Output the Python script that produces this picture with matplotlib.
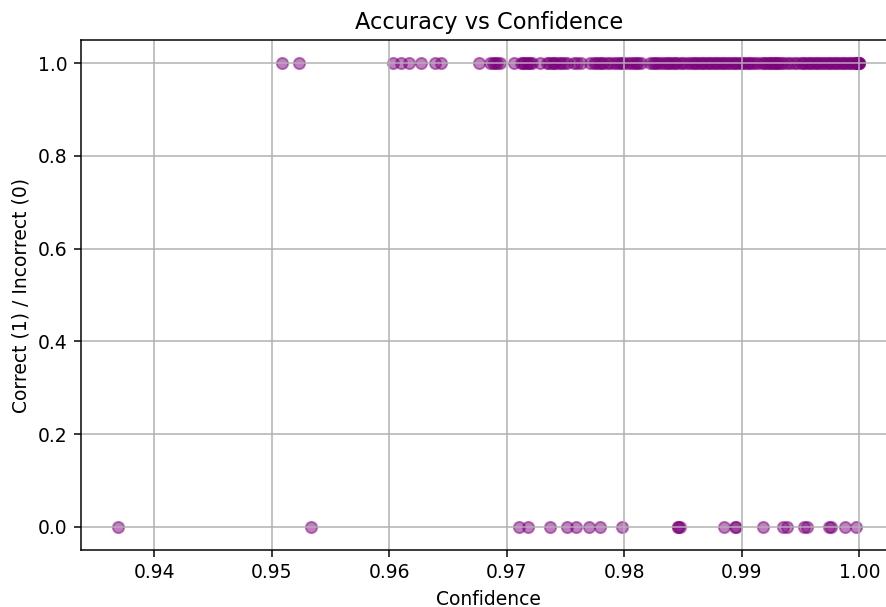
import numpy as np
import matplotlib
matplotlib.use('Agg')
import matplotlib.pyplot as plt

# уверенность модели для верных ответов
conf_correct = [
    0.9509, 0.9523,
    0.9603, 0.9610, 0.9617, 0.9627, 0.9639, 0.9644,
    0.9676, 0.9686, 0.9688, 0.9690, 0.9692, 0.9694,
    0.9706, 0.9712, 0.9714, 0.9715, 0.9717, 0.9718, 0.9720, 0.9721,
    0.9728, 0.9734, 0.9736, 0.9738, 0.9740, 0.9741, 0.9744, 0.9746, 0.9749,
    0.9751, 0.9757, 0.9760, 0.9763, 0.9771, 0.9774, 0.9776, 0.9778, 0.9780,
    0.9782, 0.9785, 0.9788, 0.9791, 0.9794, 0.9796, 0.9798, 0.9800, 0.9803,
    0.9806, 0.9808, 0.9810, 0.9812, 0.9814,
    0.9822, 0.9824, 0.9826, 0.9828, 0.9830, 0.9833, 0.9835, 0.9837, 0.9839,
    0.9841, 0.9843, 0.9845, 0.9848, 0.9850, 0.9853, 0.9856, 0.9858, 0.9860,
    0.9862, 0.9864, 0.9866, 0.9868, 0.9870, 0.9872, 0.9874, 0.9876, 0.9878,
    0.9880, 0.9882, 0.9884, 0.9886, 0.9888, 0.9890, 0.9892, 0.9894, 0.9896,
    0.9898, 0.9900, 0.9902, 0.9904, 0.9906, 0.9908, 0.9910, 0.9913, 0.9916,
    0.9919, 0.9920, 0.9922, 0.9924, 0.9925, 0.9927, 0.9928, 0.9930, 0.9931,
    0.9933, 0.9935, 0.9938, 0.9941, 0.9944, 0.9947, 0.9950,
    0.9952, 0.9954, 0.9956, 0.9958, 0.9960, 0.9962, 0.9964, 0.9966, 0.9968,
    0.9970, 0.9972, 0.9974, 0.9976, 0.9978, 0.9980, 0.9982, 0.9984, 0.9986,
    0.9988, 0.9990, 0.9992, 0.9994, 0.9996, 0.9997, 0.9998, 0.9999, 0.9999,
    1.0000, 1.0000, 1.0000,
]

# уверенность модели для ошибочных ответов
conf_wrong = [
    0.9369, 0.9533,
    0.9710, 0.9718, 0.9737, 0.9751, 0.9759, 0.9770, 0.9779, 0.9798,
    0.9846, 0.9846, 0.9847, 0.9885, 0.9894, 0.9895, 0.9918, 0.9935, 0.9938,
    0.9953, 0.9955, 0.9974, 0.9976, 0.9988, 0.9997,
]

confidence = np.array(conf_correct + conf_wrong)
correct = np.array([1] * len(conf_correct) + [0] * len(conf_wrong))

DPI = 135
fig = plt.figure(figsize=(886 / DPI, 607 / DPI), dpi=DPI)
ax = fig.add_axes([0.0911, 0.0939, 0.9208, 0.8402])

ax.scatter(confidence, correct, alpha=0.5, color='purple')
ax.set_xlabel('Confidence')
ax.set_ylabel('Correct (1) / Incorrect (0)')
ax.set_title('Accuracy vs Confidence')
ax.grid(True)

fig.savefig('out.png', dpi=DPI)
